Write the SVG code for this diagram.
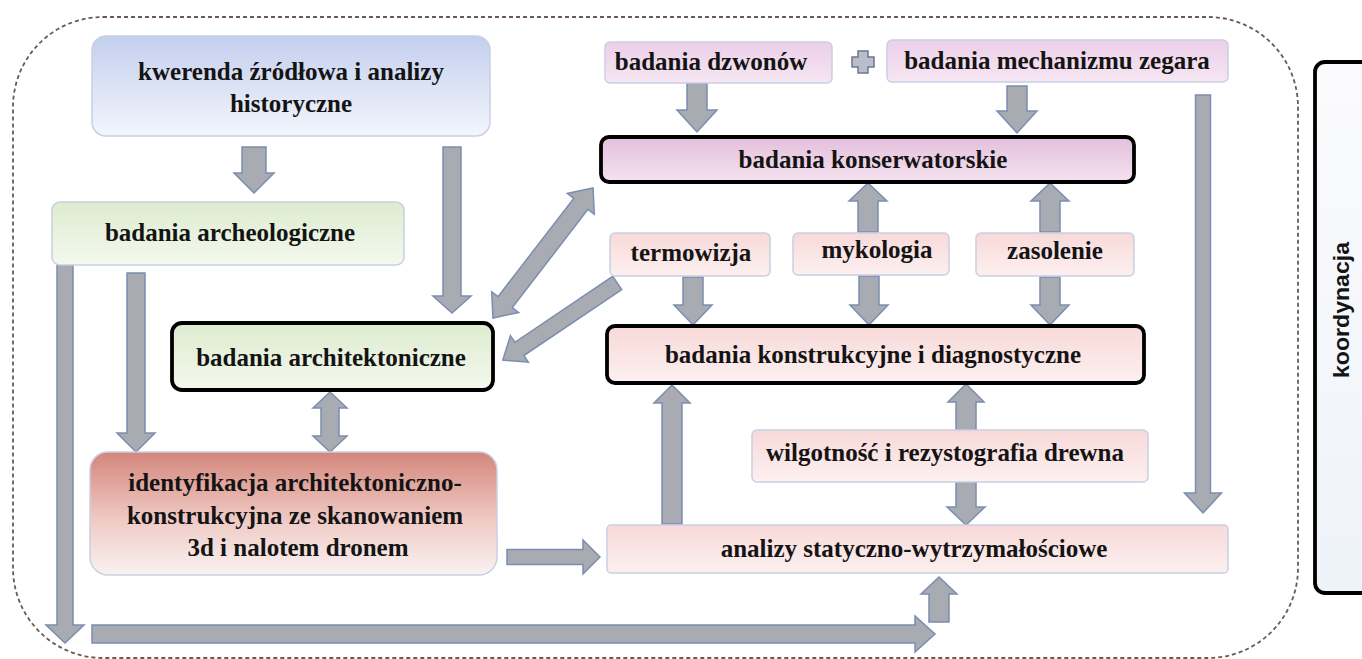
<svg xmlns="http://www.w3.org/2000/svg" width="1362" height="659" viewBox="0 0 1362 659">
<style>
.t{font-family:"Liberation Serif","Times New Roman",serif;font-weight:bold;font-size:25px;fill:#141414;text-anchor:middle}
.k{font-family:"Liberation Sans",sans-serif;font-weight:bold;font-size:22px;fill:#141414;text-anchor:middle}
.arr{fill:#a8abb1;stroke:#7b8db0;stroke-width:1.5;stroke-linejoin:miter}
.soft{stroke:#c9d0e4;stroke-width:1.5}
.bold{stroke:#000;stroke-width:3.8}
</style>
<defs>
<linearGradient id="gBlue" x1="0" y1="0" x2="0" y2="1"><stop offset="0" stop-color="#c3cfee"/><stop offset="1" stop-color="#f4f6fc"/></linearGradient>
<linearGradient id="gGreen" x1="0" y1="0" x2="0" y2="1"><stop offset="0" stop-color="#ddebcf"/><stop offset="1" stop-color="#f4f9ee"/></linearGradient>
<linearGradient id="gRed" x1="0" y1="0" x2="0" y2="1"><stop offset="0" stop-color="#d4867b"/><stop offset="0.55" stop-color="#efcac4"/><stop offset="1" stop-color="#f9f2f2"/></linearGradient>
<linearGradient id="gLav" x1="0" y1="0" x2="0" y2="1"><stop offset="0" stop-color="#eccfe8"/><stop offset="1" stop-color="#f6e6f3"/></linearGradient>
<linearGradient id="gLav2" x1="0" y1="0" x2="0" y2="1"><stop offset="0" stop-color="#e4bfdc"/><stop offset="1" stop-color="#f4e2f0"/></linearGradient>
<linearGradient id="gPink" x1="0" y1="0" x2="0" y2="1"><stop offset="0" stop-color="#f8d9d9"/><stop offset="1" stop-color="#fdf0f0"/></linearGradient>
<linearGradient id="gKoor" x1="0" y1="0" x2="0" y2="1"><stop offset="0" stop-color="#fbfbfd"/><stop offset="1" stop-color="#eef3f9"/></linearGradient>
</defs>
<rect width="1362" height="659" fill="#ffffff"/>
<rect id="frame" x="13" y="17" width="1285" height="641" rx="90" ry="90" fill="none" stroke="#6b5a52" stroke-width="1.8" stroke-dasharray="4 3"/>

<g id="connectors">
<polygon class="arr" points="242,147 266,147 266,173 274,173 254,193 234,173 242,173"/>
<polygon class="arr" points="443,147 461,147 461,296 471,296 452,313 433,296 443,296"/>
<polygon class="arr" points="57,265 73,265 73,625 84,625 65,643 46,625 57,625"/>
<polygon class="arr" points="127,273 145,273 145,433 155,433 136,452 117,433 127,433"/>
<polygon class="arr" points="92,625 915,625 915,616 935,634 915,652 915,643 92,643"/>
<polygon class="arr" points="507,549.5 583,549.5 583,540 600,557 583,574 583,564.5 507,564.5"/>
<polygon class="arr" points="330,392 347,408 339,408 339,436 347,436 330,452 313,436 321,436 321,408 313,408"/>
<polygon class="arr" transform="translate(543,253) rotate(-52.4)" points="-82,0 -62,-17 -62,-9 62,-9 62,-17 82,0 62,17 62,9 -62,9 -62,17"/>
<polygon class="arr" transform="translate(560,321.5) rotate(146)" points="-69,-8 49,-8 49,-16 69,0 49,16 49,8 -69,8"/>
<polygon class="arr" points="687,83 707,83 707,110 717,110 697,132 677,110 687,110"/>
<polygon class="arr" points="1007,86 1027,86 1027,111 1037,111 1017,133 997,111 1007,111"/>
<polygon class="arr" points="868,183 887,201 878,201 878,232 858,232 858,201 849,201"/>
<polygon class="arr" points="1050,183 1069,201 1060,201 1060,232 1040,232 1040,201 1031,201"/>
<polygon class="arr" points="683,277 703,277 703,305 712,305 693,325 674,305 683,305"/>
<polygon class="arr" points="859,276 879,276 879,305 888,305 869,325 850,305 859,305"/>
<polygon class="arr" points="1040,277 1060,277 1060,305 1069,305 1050,325 1031,305 1040,305"/>
<polygon class="arr" points="672,385 690,403 682,403 682,524 662,524 662,403 654,403"/>
<polygon class="arr" points="966,384 984,402 976,402 976,430 956,430 956,402 948,402"/>
<polygon class="arr" points="956,482 976,482 976,507 985,507 966,525 947,507 956,507"/>
<polygon class="arr" points="1195.5,95 1210.5,95 1210.5,493 1221.5,493 1203,513 1184.5,493 1195.5,493"/>
<polygon class="arr" points="939,577 957,594 949,594 949,622 929,622 929,594 921,594"/>
<path id="plus" d="M858,51 h10 v6 h6 v10 h-6 v6 h-10 v-6 h-6 v-10 h6 z" fill="#b9bdcc" stroke="#6d7790" stroke-width="1.5"/>
</g>

<g id="n-kwerenda">
<rect x="92" y="36" width="398" height="100" rx="14" fill="url(#gBlue)" class="soft"/>
<text class="t" x="291" y="80">kwerenda źródłowa i analizy</text>
<text class="t" x="291" y="112">historyczne</text>
</g>
<g id="n-archeologiczne">
<rect x="52" y="202" width="352" height="63" rx="8" fill="url(#gGreen)" class="soft"/>
<text class="t" x="230" y="241">badania archeologiczne</text>
</g>
<g id="n-architektoniczne">
<rect x="172" y="323" width="321" height="67" rx="10" fill="url(#gGreen)" class="bold"/>
<text class="t" x="331" y="366">badania architektoniczne</text>
</g>
<g id="n-identyfikacja">
<rect x="90" y="452" width="407" height="123" rx="18" fill="url(#gRed)" class="soft"/>
<text class="t" x="295" y="491">identyfikacja architektoniczno-</text>
<text class="t" x="295" y="523.5">konstrukcyjna ze skanowaniem</text>
<text class="t" x="298" y="556">3d i nalotem dronem</text>
</g>
<g id="n-dzwonow">
<rect x="605" y="42" width="227" height="41" rx="5" fill="url(#gLav)" class="soft"/>
<text class="t" x="711" y="70">badania dzwonów</text>
</g>
<g id="n-zegara">
<rect x="887" y="40" width="341" height="42" rx="5" fill="url(#gLav)" class="soft"/>
<text class="t" x="1057" y="69">badania mechanizmu zegara</text>
</g>
<g id="n-konserwatorskie">
<rect x="601" y="137" width="533" height="45" rx="8" fill="url(#gLav2)" class="bold"/>
<text class="t" x="873" y="168">badania konserwatorskie</text>
</g>
<g id="n-termowizja">
<rect x="610" y="233" width="160" height="43" rx="5" fill="url(#gPink)" class="soft"/>
<text class="t" x="691" y="261">termowizja</text>
</g>
<g id="n-mykologia">
<rect x="793" y="233" width="156" height="42" rx="5" fill="url(#gPink)" class="soft"/>
<text class="t" x="877" y="258">mykologia</text>
</g>
<g id="n-zasolenie">
<rect x="976" y="233" width="158" height="43" rx="5" fill="url(#gPink)" class="soft"/>
<text class="t" x="1055" y="259">zasolenie</text>
</g>
<g id="n-konstrukcyjne">
<rect x="607" y="326" width="537" height="57" rx="8" fill="url(#gPink)" class="bold"/>
<text class="t" x="873" y="363">badania konstrukcyjne i diagnostyczne</text>
</g>
<g id="n-wilgotnosc">
<rect x="752" y="430" width="396" height="52" rx="5" fill="url(#gPink)" class="soft"/>
<text class="t" x="945" y="461">wilgotność i rezystografia drewna</text>
</g>
<g id="n-analizy">
<rect x="607" y="525" width="621" height="48" rx="4" fill="url(#gPink)" class="soft"/>
<text class="t" x="914" y="557">analizy statyczno-wytrzymałościowe</text>
</g>
<g id="n-koordynacja">
<rect x="1315" y="62" width="62" height="531" rx="10" fill="url(#gKoor)" class="bold"/>
<text class="k" transform="translate(1349,310) rotate(-90)" x="0" y="0" textLength="136" lengthAdjust="spacingAndGlyphs">koordynacja</text>
</g>
</svg>
